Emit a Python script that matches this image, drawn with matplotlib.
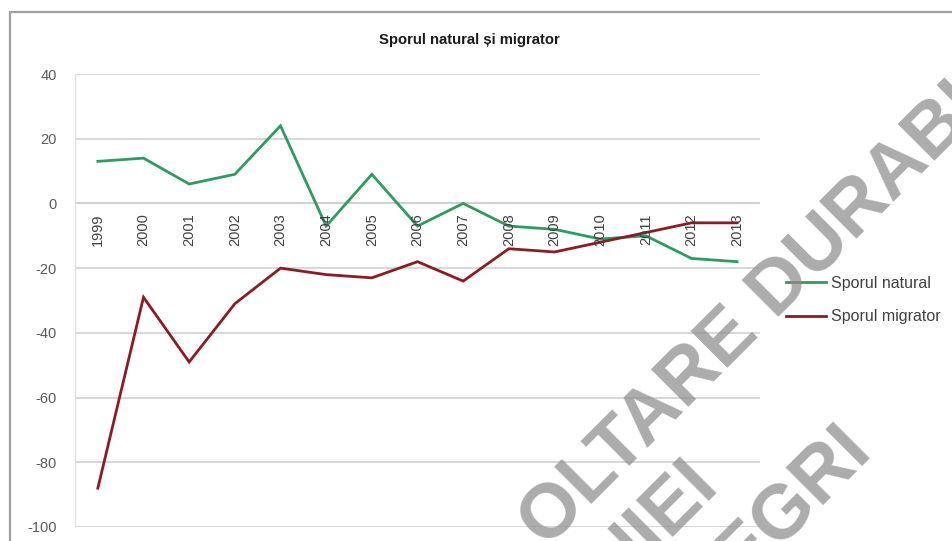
import matplotlib
matplotlib.use("Agg")
import matplotlib.pyplot as plt
from matplotlib.patches import Rectangle

years = ["1999", "2000", "2001", "2002", "2003", "2004", "2005", "2006",
         "2007", "2008", "2009", "2010", "2011", "2012", "2013"]
sporul_natural = [13, 14, 6, 9, 24, -7, 9, -7, 0, -7, -8, -11, -10, -17, -18]
sporul_migrator = [-88, -29, -49, -31, -20, -22, -23, -18, -24, -14, -15, -12, -9, -6, -6]
yticks = [40, 20, 0, -20, -40, -60, -80, -100]

W, H = 952, 541
plt.rcParams["font.family"] = ["Liberation Sans", "DejaVu Sans"]
plt.rcParams["axes.unicode_minus"] = False
fig = plt.figure(figsize=(W / 100, H / 100), dpi=100)
fig.patch.set_facecolor("white")


def fx(px):
    return px / W


def fy(py):
    return 1 - py / H


# outer chart frame (extends beyond the visible image)
fig.patches.append(Rectangle((fx(10), fy(600)), fx(1000), fy(12) - fy(600),
                             transform=fig.transFigure, fill=False,
                             edgecolor="#a0a0a0", linewidth=1.6, zorder=0))

ax = fig.add_axes([fx(75), fy(527), fx(760) - fx(75), fy(74) - fy(527)])
ax.set_xlim(-0.5, len(years) - 0.5)
ax.set_ylim(-100, 40)
ax.set_yticks(yticks)
ax.yaxis.grid(True, color="#d4d4d4", linewidth=1.3)
ax.set_axisbelow(True)
for s in ["top", "right", "bottom"]:
    ax.spines[s].set_visible(False)
ax.spines["left"].set_color("#e0e0e0")
ax.spines["left"].set_linewidth(1.0)
ax.axhline(0, color="#d0d0d0", linewidth=1.3, zorder=1)
ax.tick_params(axis="y", length=0, pad=13, labelsize=10.5, labelcolor="#595959")
ax.set_xticks([])

x = list(range(len(years)))
ln1, = ax.plot(x, sporul_natural, color="#2f9a62", linewidth=2.0,
               solid_joinstyle="miter", zorder=3, label="Sporul natural")
ln2, = ax.plot(x, sporul_migrator, color="#8a1c24", linewidth=2.0,
               solid_joinstyle="miter", zorder=3, label="Sporul migrator")

# category labels sitting just under the zero line
for i, yr in enumerate(years):
    ax.annotate(yr, xy=(i, 0), xytext=(0, -7), textcoords="offset points",
                rotation=90, ha="center", va="top", fontsize=10.5,
                color="#404040", zorder=4)

fig.text(fx(469), fy(40), "Sporul natural și migrator", ha="center",
         va="center", fontsize=10.7, fontweight="bold", color="#1a1a1a")

leg = fig.legend(handles=[ln1, ln2], loc="center left",
                 bbox_to_anchor=(fx(778), fy(300)), frameon=False,
                 fontsize=11.5, handlelength=2.5, handletextpad=0.3,
                 labelspacing=1.15, borderpad=0)
for t in leg.get_texts():
    t.set_color("#404040")

# watermark fragments from the scanned page
wm = dict(rotation=45, ha="center", va="center", fontsize=55,
          fontweight="bold", color="#8c8c8c", alpha=0.72, zorder=10,
          rotation_mode="anchor")
fig.text(fx(752), fy(316), "OLTARE DURABI", **wm)
fig.text(fx(654), fy(524), "NIEI", **wm)
fig.text(fx(793), fy(502), "EGRI", **wm)

fig.savefig("out.png", dpi=100, facecolor="white")
